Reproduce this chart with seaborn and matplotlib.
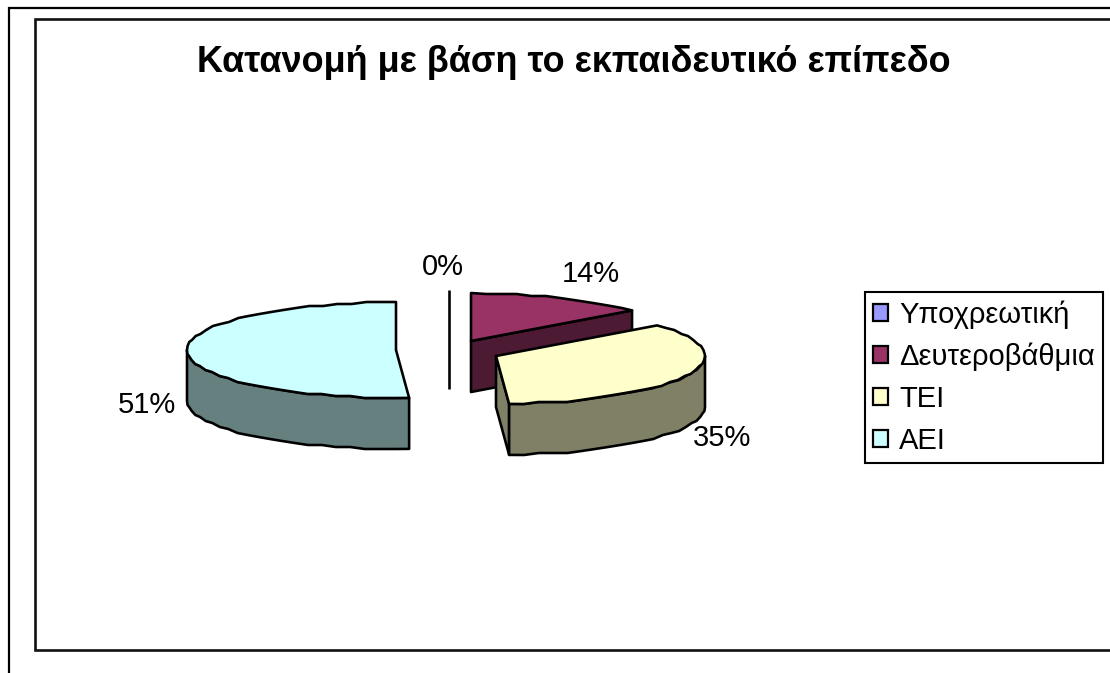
import numpy as np
import matplotlib
matplotlib.use("Agg")
import matplotlib.pyplot as plt
from matplotlib.patches import Patch, Polygon
import seaborn as sns

# Education level shares, clockwise from twelve o'clock
levels = ["Υποχρεωτική", "Δευτεροβάθμια", "ΤΕΙ", "ΑΕΙ"]
shares = [0, 14, 35, 51]
title_text = "Κατανομή με βάση το εκπαιδευτικό επίπεδο"

top_colors = sns.color_palette(["#9999FF", "#993366", "#FFFFCC", "#CCFFFF"])
side_colors = sns.color_palette(["#4D4D80", "#4D1A33", "#808066", "#668080"])

# Pie projection, in figure pixels
slice_centers = [(449, 338), (471, 341), (496, 356), (396, 350)]
label_positions = [(443, 267), (591, 274), (722, 438), (147, 405)]
radius_x, radius_y, depth = 209, 48, 51
edge_px = 2.6
rim_step = 2.0

sns.set_theme(style="white")
plt.rcParams["font.family"] = ["Liberation Sans", "DejaVu Sans"]

fig = plt.figure(figsize=(11.1, 6.73), dpi=100, facecolor="white")
ax = fig.add_axes([0, 0, 1, 1])
ax.set_xlim(0, 1110)
ax.set_ylim(673, 0)
ax.axis("off")
lw = edge_px * 72 / 100


def rim(center, a0, a1):
    """Points on the ellipse between two clockwise angles from the top (degrees),
    snapped to a coarse grid so the curve has the stepped look of a low-res chart."""
    count = max(2, int(abs(a1 - a0) / 4) + 1)
    t = np.radians(np.linspace(a0, a1, count))
    x = center[0] + radius_x * np.sin(t)
    y = center[1] - radius_y * np.cos(t)
    y[1:-1] = np.round(y[1:-1] / rim_step) * rim_step
    return np.column_stack([x, y])


def draw_slice(center, a0, a1, top, side, z):
    cx, cy = center
    drop = np.array([0, depth])
    # Closing cut face, visible while it lies on the right half of the pie
    if a1 < 180:
        p = rim(center, a1, a1)[0]
        face = [(cx, cy), p, p + drop, (cx, cy + depth)]
        ax.add_patch(Polygon(face, closed=True, fc=side, ec="black", lw=lw,
                             joinstyle="round", zorder=z))
    # Outer wall over the visible front arc
    lo, hi = max(a0, 90), min(a1, 270)
    if hi > lo:
        arc = rim(center, lo, hi)
        wall = np.vstack([arc, (arc + drop)[::-1]])
        ax.add_patch(Polygon(wall, closed=True, fc=side, ec="black", lw=lw,
                             joinstyle="round", zorder=z))
    # Top face
    outline = np.vstack([[center], rim(center, a0, a1)])
    ax.add_patch(Polygon(outline, closed=True, fc=top, ec="black", lw=lw,
                         joinstyle="round", zorder=z + 0.5))


edges = np.concatenate([[0], np.cumsum(shares)]) * 3.6
for i in range(len(shares)):
    a0, a1 = edges[i], edges[i + 1]
    cx, cy = slice_centers[i]
    if shares[i] == 0:
        # An empty slice collapses to a vertical sliver
        ax.plot([cx, cx], [cy - radius_y, cy + depth], color="black", lw=lw,
                solid_capstyle="butt", zorder=i + 1)
    else:
        draw_slice(slice_centers[i], a0, a1, top_colors[i], side_colors[i], i + 1)
    ax.text(*label_positions[i], f"{shares[i]}%", fontsize=21, color="black",
            ha="center", va="center", zorder=10)

# Chart frame and the page rule around it, both open on the right
ax.plot([9, 9, 1110], [673, 8, 8], color="black", lw=1.6, solid_joinstyle="miter")
ax.plot([1110, 34.5, 34.5, 1110], [18.5, 18.5, 650, 650], color="#111111", lw=1.9,
        solid_joinstyle="miter")

ax.text(574, 62.5, title_text, fontsize=25.9, fontweight="bold", color="black",
        ha="center", va="center")

handles = [Patch(facecolor=c, edgecolor="black", linewidth=1.6) for c in top_colors]
legend = ax.legend(
    handles, levels, loc="center left", bbox_to_anchor=(864.5, 377.5),
    bbox_transform=ax.transData, fontsize=21, frameon=True, fancybox=False,
    edgecolor="black", framealpha=1, borderpad=0.3, labelspacing=0.47,
    handlelength=0.5, handleheight=0.5, handletextpad=0.38, borderaxespad=0,
    labelcolor="black",
)
legend.get_frame().set_linewidth(1.5)

fig.savefig("out.png", dpi=100, facecolor="white")
